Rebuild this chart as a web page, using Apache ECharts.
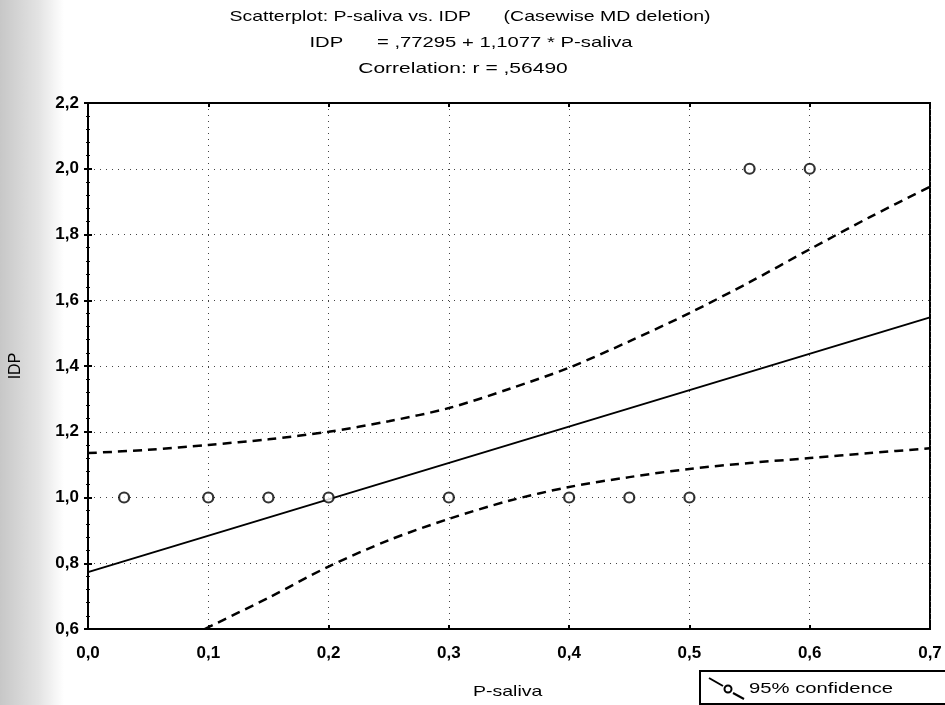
<!DOCTYPE html>
<html>
<head>
<meta charset="utf-8">
<script src="https://cdn.jsdelivr.net/npm/echarts@6/dist/echarts.min.js"></script>
<style>
html,body{margin:0;padding:0;background:#fff;}
#chart{width:945px;height:705px;}
</style>
</head>
<body>
<div id="chart"></div>
<script>
// ---- data ----
const xTickValues = [0, 0.1, 0.2, 0.3, 0.4, 0.5, 0.6, 0.7];
const xTickLabels = ['0,0', '0,1', '0,2', '0,3', '0,4', '0,5', '0,6', '0,7'];
const yTickValues = [0.6, 0.8, 1.0, 1.2, 1.4, 1.6, 1.8, 2.0, 2.2];
const yTickLabels = ['0,6', '0,8', '1,0', '1,2', '1,4', '1,6', '1,8', '2,0', '2,2'];

const pointsX = [0.03, 0.10, 0.15, 0.20, 0.30, 0.40, 0.45, 0.50, 0.55, 0.60];
const pointsY = [1.0, 1.0, 1.0, 1.0, 1.0, 1.0, 1.0, 1.0, 2.0, 2.0];

const fitX = [0, 0.7];
const fitY = [0.773, 1.548];

const upperX = [0, 0.05, 0.10, 0.15, 0.20, 0.25, 0.30, 0.35, 0.40, 0.45, 0.50, 0.55, 0.60, 0.65, 0.70];
const upperY = [1.135, 1.145, 1.16, 1.177, 1.20, 1.232, 1.272, 1.33, 1.395, 1.475, 1.561, 1.655, 1.755, 1.853, 1.945];

const lowerX = [0.097, 0.15, 0.20, 0.25, 0.30, 0.35, 0.40, 0.45, 0.50, 0.55, 0.60, 0.65, 0.70];
const lowerY = [0.60, 0.695, 0.79, 0.87, 0.935, 0.99, 1.032, 1.062, 1.087, 1.105, 1.12, 1.135, 1.15];

const titleLine1 = 'Scatterplot: P-saliva vs. IDP      (Casewise MD deletion)';
const titleLine2 = 'IDP      = ,77295 + 1,1077 * P-saliva';
const titleLine3 = 'Correlation: r = ,56490';
const xName = 'P-saliva';
const yName = 'IDP';
const legendText = '95% confidence';

// ---- helpers ----
const zip = (xs, ys) => xs.map((x, i) => [x, ys[i]]);
const labelFor = (vals, labels) => v => {
  for (let i = 0; i < vals.length; i++) if (Math.abs(vals[i] - v) < 1e-6) return labels[i];
  return '';
};
const FONT = '"Liberation Sans", Arial, sans-serif';
const dotted = { type: [1, 5], color: '#444', width: 1 };
const wideText = (text, x, y, size, align, sx) => ({
  type: 'text', x: x, y: y, scaleX: sx, z: 10, silent: true,
  style: { text: text, font: size + 'px ' + FONT, fill: '#000', align: align, verticalAlign: 'middle' }
});

const chart = echarts.init(document.getElementById('chart'), null, { renderer: 'canvas' });

const option = {
  backgroundColor: '#fff',
  animation: false,
  grid: { left: 88, right: 15, top: 103, bottom: 76, show: true, borderColor: '#000', borderWidth: 2, backgroundColor: 'transparent' },
  xAxis: [
    {
      type: 'value', min: 0, max: 0.7, interval: 0.1, position: 'bottom',
      axisLine: { show: true, lineStyle: { color: '#000', width: 2 } },
      axisTick: { show: true, inside: true, length: 4, lineStyle: { color: '#000', width: 2 } },
      axisLabel: { margin: 16, fontFamily: FONT, fontSize: 17, fontWeight: 'bold', color: '#000', formatter: labelFor(xTickValues, xTickLabels) },
      splitLine: { show: true, lineStyle: dotted }
    },
    {
      type: 'value', min: 0, max: 0.7, interval: 0.1, position: 'top',
      axisLine: { show: true, lineStyle: { color: '#000', width: 2 } },
      axisTick: { show: true, inside: true, length: 4, lineStyle: { color: '#000', width: 2 } },
      axisLabel: { show: false }, splitLine: { show: false }
    }
  ],
  yAxis: [
    {
      type: 'value', min: 0.6, max: 2.2, interval: 0.2, position: 'left',
      name: yName, nameLocation: 'middle', nameGap: 64, nameRotate: 90,
      nameTextStyle: { fontFamily: FONT, fontSize: 16, color: '#000' },
      axisLine: { show: true, lineStyle: { color: '#000', width: 2 } },
      axisTick: { show: true, inside: true, length: 4, lineStyle: { color: '#000', width: 2 } },
      minorTick: { show: true, splitNumber: 5, length: 2, lineStyle: { color: '#000', width: 1 } },
      axisLabel: { margin: 9, fontFamily: FONT, fontSize: 17, fontWeight: 'bold', color: '#000', formatter: labelFor(yTickValues, yTickLabels) },
      splitLine: { show: true, lineStyle: dotted }
    },
    {
      type: 'value', min: 0.6, max: 2.2, interval: 0.2, position: 'right',
      axisLine: { show: true, lineStyle: { color: '#000', width: 2 } },
      axisTick: { show: true, inside: true, length: 4, lineStyle: { color: '#000', width: 2 } },
      minorTick: { show: true, splitNumber: 5, length: 2, lineStyle: { color: '#000', width: 1 } },
      axisLabel: { show: false }, splitLine: { show: false }
    }
  ],
  series: [
    {
      name: 'fit', type: 'line', data: zip(fitX, fitY), symbol: 'none',
      lineStyle: { color: '#000', width: 2 }, z: 3
    },
    {
      name: legendText, type: 'line', data: zip(upperX, upperY), symbol: 'none', smooth: 0.3,
      lineStyle: { color: '#000', width: 2.5, type: [9, 6] }, z: 3
    },
    {
      name: legendText + ' lower', type: 'line', data: zip(lowerX, lowerY), symbol: 'none', smooth: 0.3,
      lineStyle: { color: '#000', width: 2.5, type: [9, 6] }, z: 3
    },
    {
      name: 'points', type: 'scatter', data: zip(pointsX, pointsY),
      symbol: 'circle', symbolSize: 10,
      itemStyle: { color: '#fff', borderColor: '#000', borderWidth: 2.2 }, z: 5
    }
  ],
  graphic: [
    {
      type: 'rect', left: 0, top: 0, z: -10, silent: true,
      shape: { width: 64, height: 705 },
      style: { fill: new echarts.graphic.LinearGradient(0, 0, 1, 0, [
        { offset: 0, color: 'rgba(0,0,0,0.22)' },
        { offset: 0.6, color: 'rgba(0,0,0,0.11)' },
        { offset: 1, color: 'rgba(0,0,0,0)' }
      ]) }
    },
    wideText(titleLine1, 470, 17, 15, 'center', 1.3),
    wideText(titleLine2, 471, 43, 15, 'center', 1.35),
    wideText(titleLine3, 463, 69, 15, 'center', 1.4),
    wideText(xName, 473, 692, 15, 'left', 1.3),
    {
      type: 'group', left: 699, top: 670, z: 10,
      children: [
        { type: 'rect', shape: { x: 0, y: 0, width: 260, height: 33 }, style: { fill: '#fff', stroke: '#000', lineWidth: 2 } },
        { type: 'line', shape: { x1: 9, y1: 7, x2: 23, y2: 15 }, style: { stroke: '#000', lineWidth: 2 } },
        { type: 'circle', shape: { cx: 28, cy: 18, r: 3.5 }, style: { fill: '#fff', stroke: '#000', lineWidth: 2 } },
        { type: 'line', shape: { x1: 33, y1: 22, x2: 44, y2: 28 }, style: { stroke: '#000', lineWidth: 2 } },
        { type: 'text', x: 49, y: 18, scaleX: 1.35, style: { text: legendText, font: '15px ' + FONT, fill: '#000', verticalAlign: 'middle' } }
      ]
    }
  ]
};
chart.setOption(option);
</script>
</body>
</html>
